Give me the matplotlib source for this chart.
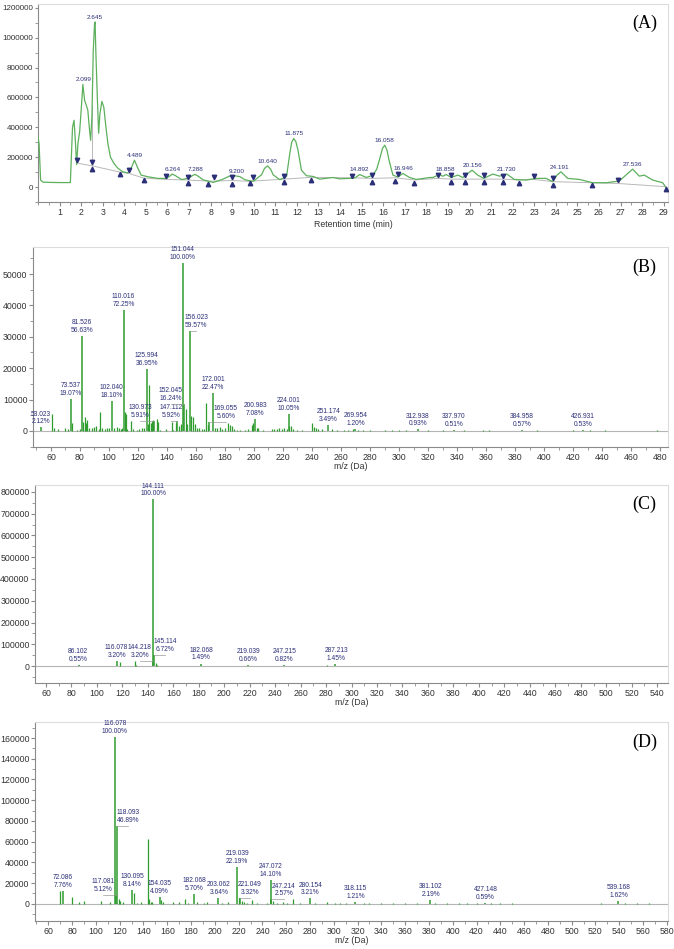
import matplotlib
matplotlib.use('Agg')
import matplotlib.pyplot as plt
from matplotlib.ticker import MultipleLocator, FormatStrFormatter
import numpy as np

# ---------------- (A) chromatogram ----------------
rt = [0.0, 0.05, 0.12, 0.23, 0.6, 1.0, 1.5, 1.54, 1.60, 1.67, 1.73, 1.79, 1.85, 1.93, 2.00,
      2.08, 2.16, 2.24, 2.31, 2.39, 2.44, 2.50, 2.56, 2.62, 2.645, 2.68, 2.75, 2.81, 2.87,
      2.96, 3.05, 3.15, 3.24, 3.36, 3.52, 3.70, 3.93, 4.16, 4.32, 4.47, 4.63, 4.78, 5.09,
      5.55, 5.94, 6.10, 6.22, 6.35, 6.66, 7.0, 7.15, 7.27, 7.40, 7.66, 8.12, 8.51, 8.89,
      9.10, 9.35, 9.59, 9.97, 10.36, 10.50, 10.64, 10.78, 10.9, 11.21, 11.52, 11.67, 11.76,
      11.85, 11.95, 12.05, 12.21, 12.44, 12.75, 13.06, 13.67, 13.98, 14.45, 14.7, 14.91,
      15.22, 15.53, 15.70, 15.84, 15.97, 16.07, 16.17, 16.27, 16.45, 16.68, 16.91, 17.22,
      17.53, 18.15, 18.30, 18.61, 18.76, 18.92, 19.15, 19.46, 19.69, 19.92, 20.12, 20.38,
      20.66, 21.08, 21.39, 21.73, 22.08, 22.62, 23.09, 23.55, 23.86, 24.05, 24.24, 24.55,
      25.09, 25.71, 26.33, 26.94, 27.25, 27.56, 27.87, 28.10, 28.49, 28.95, 29.14]
tic = [335000, 290000, 47000, 33000, 31000, 30000, 30000, 180000, 400000, 447000, 313000,
       150000, 290000, 370000, 513000, 687000, 580000, 547000, 513000, 380000, 313000,
       470000, 910000, 1090000, 1105000, 910000, 600000, 360000, 490000, 573000, 535000,
       400000, 290000, 200000, 158000, 126000, 102000, 95000, 126000, 180000, 126000,
       80000, 69000, 58000, 58000, 72000, 87000, 78000, 50000, 60000, 76000, 85000, 75000,
       48000, 31000, 49000, 74000, 76000, 70000, 49000, 38000, 82000, 125000, 142000,
       120000, 82000, 49000, 71000, 224000, 300000, 325000, 305000, 247000, 113000, 76000,
       71000, 53000, 64000, 55000, 58000, 62000, 84000, 64000, 80000, 120000, 190000,
       260000, 280000, 250000, 180000, 80000, 67000, 91000, 64000, 51000, 64000, 64000,
       84000, 72000, 84000, 64000, 80000, 64000, 91000, 113000, 80000, 58000, 87000,
       73000, 87000, 51000, 47000, 58000, 58000, 36000, 80000, 102000, 58000, 51000,
       29000, 29000, 40000, 80000, 120000, 73000, 80000, 47000, 29000, -9000]

peak_rt = ['2.099', '2.645', '4.489', '6.264', '7.288', '9.200', '10.640', '11.875',
           '14.892', '16.058', '16.946', '18.858', '20.156', '21.730', '24.191', '27.536']
peak_top = [687000, 1105000, 180000, 87000, 85000, 76000, 142000, 325000,
            84000, 280000, 91000, 84000, 113000, 87000, 102000, 120000]

base_rt = [1.81, 2.51, 3.80, 4.22, 4.90, 5.92, 6.95, 7.90, 8.17, 9.00, 9.82, 9.97, 11.41,
           12.64, 14.57, 15.47, 16.56, 16.68, 17.45, 18.53, 19.15, 19.77, 20.66, 21.56,
           22.31, 22.98, 23.89, 25.66, 26.88, 29.13]
base_y = [160000, 142000, 100000, 91000, 60000, 51000, 47000, 40000, 40000, 44000, 38000,
          40000, 53000, 65000, 62000, 58000, 62000, 60000, 47000, 58000, 53000, 53000,
          53000, 53000, 47000, 51000, 36000, 29000, 24000, 2000]

start_rt = [1.81, 2.51, 4.22, 5.92, 6.95, 8.17, 9.00, 9.97, 11.41, 14.57, 15.47, 16.68,
            18.53, 19.15, 19.77, 20.66, 21.56, 22.98, 23.89, 26.88]
start_y = [180000, 165000, 111000, 75000, 69000, 64000, 69000, 69000, 75000, 75000,
           84000, 87000, 80000, 80000, 80000, 80000, 75000, 73000, 60000, 47000]
end_rt = [2.51, 3.80, 4.90, 6.95, 7.90, 9.00, 9.82, 11.41, 12.64, 15.47, 16.56, 17.45,
          19.15, 19.77, 20.66, 21.56, 22.31, 23.89, 25.66, 29.13]
end_y = [118000, 87000, 47000, 27000, 20000, 22000, 27000, 31000, 47000, 33000, 42000,
         25000, 33000, 33000, 33000, 33000, 29000, 11000, 11000, -11000]
drop_rt = [2.51]

# ---------------- (B) spectrum ----------------
b_base = 53400
b_peaks = [(60.8, 5500), (62.2, 1000), (65.0, 500), (69.6, 1100), (71.9, 600), (74.5, 2500),
           (77.7, 400), (80.0, 700), (82.3, 2900), (83.2, 4500), (84.1, 2700), (85.0, 3500),
           (86.4, 1100), (88.0, 900), (89.8, 1200), (91.0, 1700), (92.9, 600), (94.0, 6000),
           (95.0, 1000), (97.3, 500), (98.4, 800), (100.0, 800), (103.4, 1100), (105.3, 1300),
           (106.7, 900), (108.0, 700), (109.2, 800), (110.9, 6200), (111.8, 5300), (112.7, 600),
           (115.2, 3300), (116.8, 500), (119.1, 400), (121.0, 600), (122.6, 800), (124.2, 1000),
           (126.7, 2100), (127.8, 14500), (128.7, 2700), (129.4, 3200), (130.3, 3500),
           (132.9, 3900), (133.6, 3000), (135.2, 400), (139.1, 600), (143.3, 2800), (144.4, 400),
           (146.2, 2700), (148.5, 1700), (149.4, 2100), (152.8, 7100), (153.7, 2200),
           (156.7, 4800), (157.6, 4500), (159.0, 2200), (160.6, 1100), (162.4, 900), (163.8, 600),
           (165.2, 500), (167.0, 9000), (168.4, 1800), (173.2, 1100), (174.3, 800), (176.6, 1300),
           (178.2, 600), (180.0, 800), (182.3, 2400), (183.4, 1800), (184.8, 1600), (186.4, 600),
           (188.5, 400), (190.3, 400), (193.8, 400), (196.0, 600), (198.3, 1900), (199.5, 2600),
           (201.8, 1100), (203.0, 1100), (206.4, 300), (212.2, 500), (213.8, 600), (215.6, 700),
           (217.4, 900), (219.0, 600), (220.7, 800), (222.5, 600), (224.4, 1600), (225.5, 1600),
           (227.1, 600), (229.4, 300), (232.9, 400), (239.8, 2600), (241.4, 1300), (242.8, 1100),
           (244.4, 600), (246.7, 500), (253.5, 600), (257.0, 400), (262, 300), (265, 400),
           (268, 500), (272, 400), (275, 300), (280, 200), (290, 200), (295, 200), (300, 200),
           (305, 300), (320, 200), (330, 200), (345, 200), (358, 300), (362, 200), (395, 200),
           (420, 200), (432, 200), (442, 200), (478, 200)]
b_lab_mz = [53.023, 73.537, 81.526, 102.040, 110.016, 125.994, 130.973, 147.112, 151.044,
            152.045, 156.023, 169.055, 172.001, 200.983, 224.001, 251.174, 269.954, 312.938,
            337.970, 384.958, 426.931]
b_lab_pct = [2.12, 19.07, 56.63, 18.10, 72.25, 36.95, 5.91, 5.92, 100.00, 16.24, 59.57, 5.60,
             22.47, 7.08, 10.05, 3.49, 1.20, 0.93, 0.51, 0.57, 0.53]
b_lab_x = [53.0, 73.5, 81.5, 102.0, 110.0, 126.0, 121.4, 142.6, 151.0, 142.6, 160.0, 180.5,
           172.0, 201.0, 224.0, 251.2, 269.9, 312.9, 337.9, 384.9, 426.9]

# ---------------- (C) spectrum ----------------
c_base = 766000
c_peaks = [(70, 2000), (72, 1000), (80, 1500), (83, 800), (118, 17000), (129.7, 24000),
           (131, 5000), (146.1, 16000), (147, 6000), (160, 1000), (165, 1500), (173, 800),
           (200, 1000), (230, 2000), (262, 1500), (275, 1500), (281, 3000), (300, 2000),
           (325, 1500), (381, 1500)]
c_lab_mz = [86.102, 116.078, 144.111, 144.218, 145.114, 182.068, 219.039, 247.215, 287.213]
c_lab_pct = [0.55, 3.20, 100.00, 3.20, 6.72, 1.49, 0.66, 0.82, 1.45]
c_lab_x = [85.4, 115.5, 144.1, 133.8, 153.5, 182.0, 219.0, 247.2, 288.0]

# ---------------- (D) spectrum ----------------
d_base = 160800
d_peaks = [(70.1, 12300), (79.6, 6800), (85.7, 1600), (89.9, 2500), (104, 2800), (111.8, 1300),
           (119.2, 5000), (120.3, 2800), (123.1, 1900), (132, 10000), (134.3, 1000), (138, 1900),
           (144, 62500), (144.8, 5000), (146.2, 1900), (147.3, 1900), (154.7, 3500),
           (156.7, 1300), (165.1, 1300), (169.8, 1900), (174.9, 4200), (177.7, 1000),
           (184.7, 1600), (190.9, 1000), (193.7, 1300), (205.8, 1000), (211.4, 1900),
           (220.1, 5800), (223.2, 2500), (224.6, 1900), (226.8, 1000), (231, 3500), (235.2, 1000),
           (243.6, 1000), (249.2, 2500), (252, 1000), (257.6, 1900), (260.4, 1000), (266, 4200),
           (271.6, 1000), (284.2, 1000), (294, 1300), (301, 1000), (305, 600), (310, 500),
           (325, 600), (330, 800), (340, 500), (350, 400), (360, 500), (370, 400), (385, 600),
           (395, 400), (405, 500), (412, 400), (420, 500), (432, 600), (440, 400), (450, 300),
           (525, 400), (545, 500), (555, 300), (565, 300)]
d_lab_mz = [72.086, 116.078, 117.081, 118.093, 130.095, 154.035, 182.068, 203.062, 219.039,
            221.049, 247.072, 247.214, 280.154, 318.115, 381.102, 427.148, 539.168]
d_lab_pct = [7.76, 100.00, 5.12, 46.89, 8.14, 4.09, 5.70, 3.64, 22.19, 3.32, 14.10, 2.57,
             3.21, 1.21, 2.19, 0.59, 1.62]
d_lab_x = [72.1, 116.0, 106.2, 126.7, 130.6, 153.3, 182.5, 203.3, 218.8, 229.5, 246.9, 258.0,
           280.5, 318.6, 381.6, 427.6, 539.6]

GREEN = '#2f9c2f'
LINE_GREEN = '#5cb05c'
NAVY = '#2b2f78'
TXT = '#333333'
FONT = 'Liberation Sans'

plt.rcParams['font.family'] = [FONT, 'DejaVu Sans']

fig = plt.figure(figsize=(6.74, 9.49), dpi=100)
W, H = 674.0, 949.0


def box(l, t, r, b):
	return [l / W, 1 - b / H, (r - l) / W, (b - t) / H]


def style(ax, ysize=6.3):
	for s in ['left', 'bottom']:
		ax.spines[s].set_color('#8a8a8a')
		ax.spines[s].set_linewidth(0.8)
	for s in ['top', 'right']:
		ax.spines[s].set_color('#dcdcdc')
		ax.spines[s].set_linewidth(0.8)
	ax.tick_params(which='both', direction='out', colors='#8a8a8a', labelcolor=TXT,
	               labelsize=6.3, top=False, right=False, pad=1.5)
	ax.tick_params(which='major', length=3)
	ax.tick_params(which='minor', length=2)
	ax.tick_params(axis='y', labelsize=ysize, pad=1)
	ax.yaxis.set_major_formatter(FormatStrFormatter('%d'))


def panel_tag(ax, tag):
	ax.text(0.963, 0.90, tag, transform=ax.transAxes, ha='center', va='center',
	        fontsize=13, family='Liberation Serif', color='black')


def plot_ms(ax, peaks, base, lab_mz, lab_pct, lab_x, xlim, ylim, ymaj, ymin, tag):
	mz, inten = zip(*peaks)
	lab_h = [p / 100.0 * base for p in lab_pct]
	ax.axhline(0, color='#b5b5b5', lw=0.8, zorder=1)
	ax.vlines(mz, 0, inten, color=GREEN, lw=0.9, zorder=2)
	ax.vlines(lab_mz, 0, lab_h, color=GREEN, lw=1.1, zorder=3)
	for m, p, x, h in zip(lab_mz, lab_pct, lab_x, lab_h):
		if abs(x - m) > 2:
			ax.plot([m, x], [h, h], color='#9a9a9a', lw=0.5, zorder=4)
		ax.annotate('%.3f\n%.2f%%' % (m, p), xy=(x, h), xytext=(0, 1.5),
		            textcoords='offset points', ha='center', va='bottom', fontsize=4.8,
		            color=NAVY, linespacing=1.15, annotation_clip=False).set_clip_on(True)
	ax.set_xlim(*xlim)
	ax.set_ylim(*ylim)
	ax.xaxis.set_major_locator(MultipleLocator(20))
	ax.xaxis.set_minor_locator(MultipleLocator(10))
	ax.yaxis.set_major_locator(MultipleLocator(ymaj))
	ax.yaxis.set_minor_locator(MultipleLocator(ymin))
	style(ax)
	ax.set_xlabel('m/z (Da)', fontsize=6.3, color=TXT, labelpad=0)
	panel_tag(ax, tag)


# (A)
axA = fig.add_axes(box(38, 4, 668, 202))
axA.plot(rt, tic, color=LINE_GREEN, lw=0.9, zorder=3)
axA.plot(base_rt, base_y, color='#b8b8b8', lw=0.7, zorder=2)
for d in drop_rt:
	axA.plot([d, d], [np.interp(d, base_rt, base_y), np.interp(d, rt, tic)],
	         color='#b8b8b8', lw=0.7, zorder=2)
axA.plot(start_rt, start_y, 'v', color=NAVY, ms=3.2, zorder=4)
axA.plot(end_rt, end_y, '^', color=NAVY, ms=3.2, zorder=4)
for lab, top in zip(peak_rt, peak_top):
	axA.annotate(lab, xy=(float(lab), top), xytext=(0, 1.5), textcoords='offset points',
	             ha='center', va='bottom', fontsize=4.6, color=NAVY)
axA.set_xlim(0, 29.2)
axA.set_ylim(-100000, 1225000)
axA.set_xticks(range(1, 30))
axA.xaxis.set_minor_locator(MultipleLocator(0.5))
axA.yaxis.set_major_locator(MultipleLocator(200000))
axA.yaxis.set_minor_locator(MultipleLocator(100000))
style(axA, ysize=5.8)
axA.tick_params(axis='y', which='major', length=2.5)
axA.set_xlabel('Retention time (min)', fontsize=6.3, color=TXT, labelpad=2)
panel_tag(axA, '(A)')

# (B)
axB = fig.add_axes(box(33, 247, 668, 447))
plot_ms(axB, b_peaks, b_base, b_lab_mz, b_lab_pct, b_lab_x, (47.6, 485.5), (-5100, 58600),
        10000, 5000, '(B)')

# (C)
axC = fig.add_axes(box(35, 485, 668, 683))
plot_ms(axC, c_peaks, c_base, c_lab_mz, c_lab_pct, c_lab_x, (51.4, 548.5), (-78000, 832000),
        100000, 50000, '(C)')

# (D)
axD = fig.add_axes(box(35, 722, 668, 921))
plot_ms(axD, d_peaks, d_base, d_lab_mz, d_lab_pct, d_lab_x, (48.8, 581.0), (-16700, 175500),
        20000, 10000, '(D)')

fig.savefig('out.png', dpi=100)
